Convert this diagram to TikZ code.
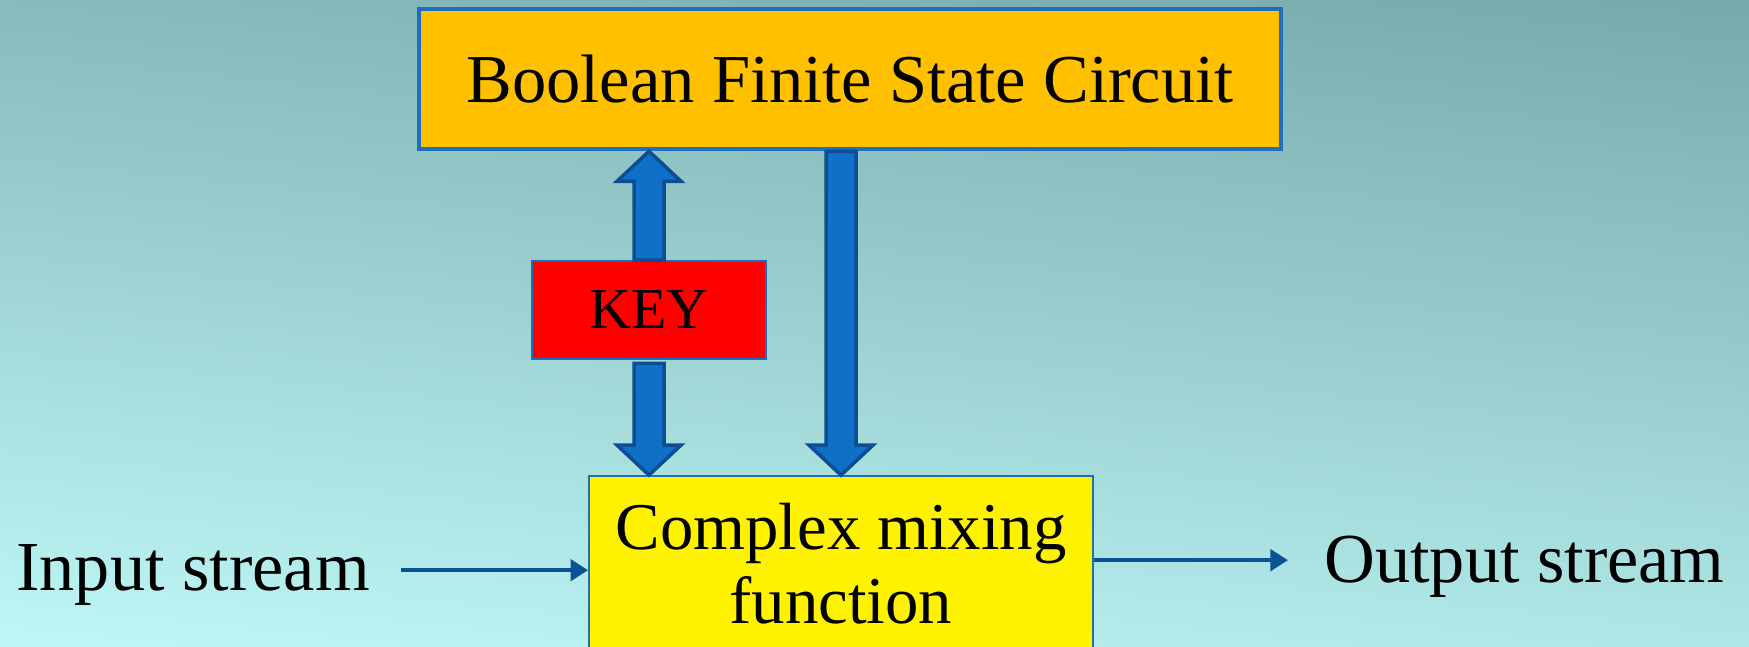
\documentclass[tikz,border=0pt]{standalone}
\usepackage{fontspec}
\setmainfont{Liberation Serif}
\usetikzlibrary{positioning,arrows.meta,calc}

\definecolor{bgtop}{HTML}{76A8AA}
\definecolor{bgbot}{HTML}{BFF8F7}
\definecolor{boxblue}{HTML}{1F6FC1}
\definecolor{fatfill}{HTML}{106FC6}
\definecolor{fatline}{HTML}{0B4E92}
\definecolor{flowblue}{HTML}{0B5294}
\definecolor{amber}{HTML}{FFC000}

% thick block arrow from #1 to #2 (tip at #2)
\newcommand{\fatarrow}[2]{%
  \coordinate (fah) at ($(#2)!3mm!(#1)$);
  \filldraw[fat] ($(#1)!1.5mm!90:(#2)$) -- ($(fah)!1.5mm!90:(#2)$)
    -- ($(fah)!3.2mm!90:(#2)$) -- (#2) -- ($(fah)!3.2mm!-90:(#2)$)
    -- ($(fah)!1.5mm!-90:(#2)$) -- ($(#1)!1.5mm!-90:(#2)$) -- cycle;}

\begin{document}
\begin{tikzpicture}[
  big/.style={font=\fontsize{20}{22}\selectfont},
  box/.style={draw=boxblue, line width=0.5pt, align=center, inner sep=2pt},
  circbox/.style={box, fill=amber, line width=1.3pt, minimum width=8.62cm, minimum height=1.40cm, font=\fontsize{19.5}{22}\selectfont},
  keybox/.style={box, fill=red, minimum width=2.34cm, minimum height=0.98cm, font=\fontsize{16.5}{18}\selectfont},
  mixbox/.style={box, fill=yellow, minimum width=5.04cm, minimum height=1.76cm, font=\fontsize{19}{21}\selectfont},
  fat/.style={fill=fatfill, draw=fatline, line width=1pt},
  flow/.style={-{Triangle[length=5pt,width=6pt]}, line width=1.3pt, flowblue}
]
\useasboundingbox (0,0) rectangle (17.49,6.47);
\clip (0,0) rectangle (17.49,6.47);
\shade[top color=bgtop, bottom color=bgbot, shading angle=-6] (-0.5,-0.5) rectangle (18,7);

% blocks
\node[circbox] (bfsc) at (8.50,5.68) {Boolean Finite State Circuit};
\node[keybox] (key) at (6.49,3.37) {KEY};
\node[mixbox] (mix) at (8.41,0.83) {Complex mixing\\function};

\node[big, anchor=base west] (inp) at (0.04,0.56) {Input stream};
\node[big, anchor=base west] (outp) at (13.12,0.64) {Output stream};

% block arrows
\coordinate (keyup) at (key.north |- bfsc.south);
\coordinate (keydown) at (key.south |- mix.north);
\coordinate (statetop) at (mix.north |- bfsc.south);
\fatarrow{key.north}{keyup}
\fatarrow{[yshift=-1pt]key.south}{keydown}
\fatarrow{statetop}{mix.north}

% streams
\draw[flow] ([shift={(1.9mm,1.5pt)}]inp.east) -- ([yshift=1.5pt]inp.east -| mix.west);
\draw[flow] ([yshift=2pt]outp.west -| mix.east) -- ([shift={(-2.4mm,2pt)}]outp.west);
\end{tikzpicture}
\end{document}
